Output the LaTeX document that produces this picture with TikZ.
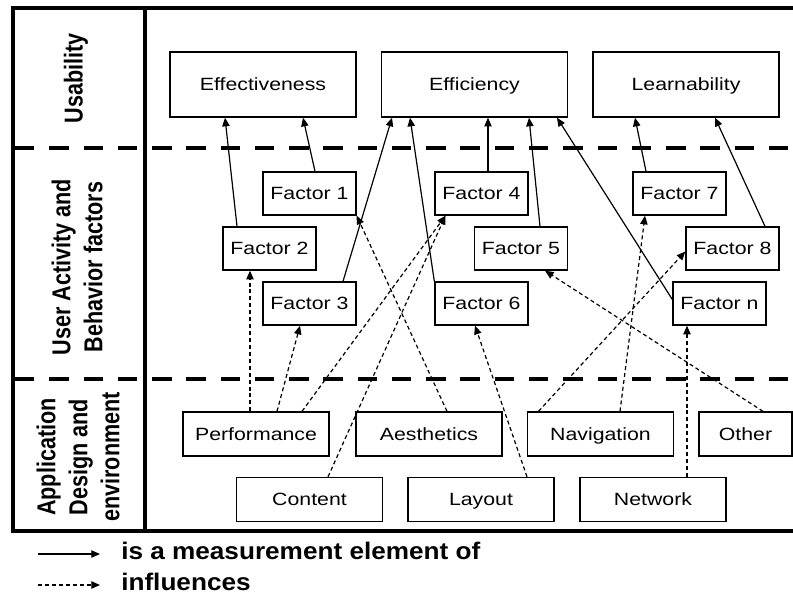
\documentclass[tikz,border=0pt]{standalone}
\usepackage{fontspec}
\setmainfont{Liberation Sans}[FakeStretch=1.2]
\newfontfamily\legendfont{Liberation Sans}[FakeStretch=1.09]
\newfontfamily\sidefont{Liberation Sans}
\usetikzlibrary{arrows.meta,calc}

\begin{document}
\begin{tikzpicture}[
		x=0.75pt, y=-0.75pt,
		box/.style={draw, line width=1pt, inner sep=0pt, text height=9.5pt, text depth=0pt, font=\fontsize{13.3}{16}\selectfont},
		quality/.style={box, minimum width=139.5pt, minimum height=48.75pt},
		factor/.style={box, minimum width=69.75pt, minimum height=32.25pt},
		design/.style={box, minimum width=109.5pt, minimum height=33pt},
		sidelabel/.style={rotate=90, yscale=1.2, align=center, inner sep=0pt, font=\sidefont\bfseries\fontsize{16.2}{20}\selectfont},
		legend/.style={anchor=west, inner xsep=15.75pt, inner ysep=0pt, font=\legendfont\bfseries\fontsize{18}{22}\selectfont},
		outline/.style={line width=3pt},
		divider/.style={line width=3.4pt, dash pattern=on 14.6pt off 11.1pt},
		measures/.style={line width=0.9pt, -{Triangle[length=6.5pt,width=5.5pt]}},
		influences/.style={measures, dash pattern=on 3pt off 2.2pt}]
		\useasboundingbox (0,0) rectangle (793,594);
		\draw[outline] (793,7.5) -| (12.5,530.5) -- (793,530.5);
		\draw[outline] (144.5,7.5) -- (144.5,530.5);
		\draw[divider] (15,148) -- (793,148);
		\draw[divider] (15,379) -- (793,379);
		\node[sidelabel] (usability) at (76,78.5) {Usability};
		\node[sidelabel] (behavior) at (77,267) {User Activity and\\Behavior factors};
		\node[sidelabel] (application) at (78,457) {Application\\Design and\\environment};
		\node[quality] (eff) at (263,84.5) {Effectiveness};
		\node[quality] (effi) at (474.5,84.5) {Efficiency};
		\node[quality] (learn) at (686,84.5) {Learnability};
		\node[factor] (f1) at (309.5,193.5) {Factor 1};
		\node[factor] (f2) at (269.5,248.5) {Factor 2};
		\node[factor] (f3) at (309.5,303.5) {Factor 3};
		\node[factor] (f4) at (481.5,193.5) {Factor 4};
		\node[factor] (f5) at (521,248.5) {Factor 5};
		\node[factor] (f6) at (481.5,303.5) {Factor 6};
		\node[factor] (f7) at (679.5,193.5) {Factor 7};
		\node[factor] (f8) at (732.5,248.5) {Factor 8};
		\node[factor] (fn) at (719.5,303.5) {Factor n};
		\node[design] (perf) at (256,434) {Performance};
		\node[design] (aest) at (429,434) {Aesthetics};
		\node[design] (nav) at (600.5,434) {Navigation};
		\node[factor, minimum height=33pt] (other) at (745.5,434) {Other};
		\node[design] (cont) at (309.5,499.5) {Content};
		\node[design] (layout) at (481,499.5) {Layout};
		\node[design] (net) at (653,499.5) {Network};
		\draw[measures] ($(f2.north)+(-32.5,0)$) -- ($(eff.south)+(-38,0)$);
		\draw[measures] ($(f1.north)+(5.5,0)$) -- ($(eff.south)+(40,0)$);
		\draw[measures] ($(f3.north)+(33.5,0)$) -- ($(effi.south)+(-82.5,0)$);
		\draw[measures] (f6.north west) -- ($(effi.south)+(-64.5,0)$);
		\draw[measures] ($(f4.north)+(6.5,0)$) -- ($(effi.south)+(13.5,0)$);
		\draw[measures] ($(f5.north)+(19,0)$) -- ($(effi.south)+(54.5,0)$);
		\draw[measures] ($(fn.west)+(0,-4)$) -- ($(effi.south)+(82.5,0)$);
		\draw[measures] ($(f7.north)+(-33.5,0)$) -- ($(learn.south)+(-51,0)$);
		\draw[measures] ($(f8.north)+(32.5,0)$) -- ($(learn.south)+(29,0)$);
		\draw[influences] ($(perf.north)+(-6,0)$) -- ($(f2.south)+(-19.5,0)$);
		\draw[influences] ($(perf.north)+(21,0)$) -- ($(f3.south)+(-9.5,0)$);
		\draw[influences] ($(perf.north)+(46,0)$) -- ($(f4.south)+(-36,0)$);
		\draw[influences] ($(cont.north)+(18.5,0)$) -- ($(f4.south)+(-36,0)$);
		\draw[influences] ($(aest.north)+(18,0)$) -- (f1.south east);
		\draw[influences] ($(layout.north)+(46,0)$) -- ($(f6.south)+(-6.5,0)$);
		\draw[influences] ($(other.north)+(17.5,0)$) -- ($(f5.south)+(24,0)$);
		\draw[influences] ($(nav.north)+(-62,0)$) -- ($(f8.west)+(0,3)$);
		\draw[influences] ($(nav.north)+(19.5,0)$) -- ($(f7.south)+(-34.5,0)$);
		\draw[influences] ($(net.north)+(34,0)$) -- ($(fn.south)+(-32.5,0)$);
		\coordinate (solidtail) at (38,554);
		\coordinate (dashtail) at (38,585);
		\node[legend] (measurelabel) at (100,551) {is a measurement element of};
		\node[legend] (influencelabel) at (100,582) {influences};
		\draw[measures] (solidtail) -- ($(measurelabel.west)+(0,3)$);
		\draw[influences] (dashtail) -- ($(influencelabel.west)+(0,3)$);
\end{tikzpicture}
\end{document}
